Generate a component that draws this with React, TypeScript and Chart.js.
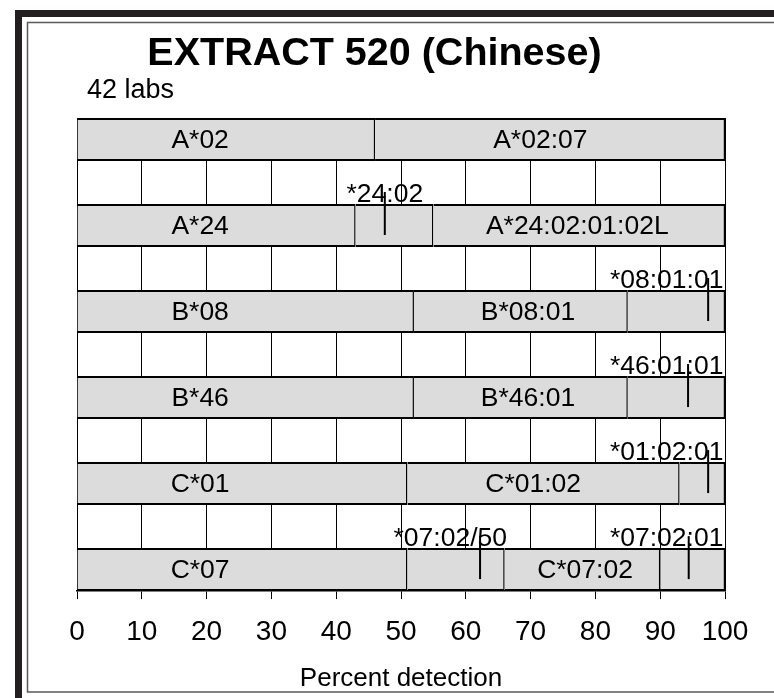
import React, { useEffect, useRef } from "react";
import { Chart, registerables } from "chart.js";

Chart.register(...registerables);

// ---- data ----
const rowNames = ["A*02", "A*24", "B*08", "B*46", "C*01", "C*07"];
const segValues: number[][] = [
  [46, 54],
  [43, 12, 45],
  [52, 33, 15],
  [52, 33, 15],
  [51, 42, 7],
  [51, 15, 24, 10],
];
const segLabels: string[][] = [
  ["A*02", "A*02:07"],
  ["A*24", "", "A*24:02:01:02L"],
  ["B*08", "B*08:01", ""],
  ["B*46", "B*46:01", ""],
  ["C*01", "C*01:02", ""],
  ["C*07", "", "C*07:02", ""],
];
// label centres, in percent
const segLabelAt: number[][] = [
  [19, 71.5],
  [19, 0, 77.2],
  [19, 69.6, 0],
  [19, 69.6, 0],
  [19, 70.4, 0],
  [19, 0, 78.4, 0],
];
const markerRow = [1, 2, 3, 4, 5, 5];
const markerValue = [47.5, 97.4, 94.3, 97.4, 62.2, 94.4];
const markerText = ["*24:02", "*08:01:01", "*46:01:01", "*01:02:01", "*07:02/50", "*07:02:01"];
const markerTextAt = [47.5, 91, 91, 91, 57.6, 91];
const xTicks = [0, 10, 20, 30, 40, 50, 60, 70, 80, 90, 100];
const titleText = "EXTRACT 520 (Chinese)";
const subText = "42 labs";
const xTitle = "Percent detection";

const FONT = "'Liberation Sans', Arial, Helvetica, sans-serif";

export default function App() {
  const ref = useRef<HTMLCanvasElement>(null);

  useEffect(() => {
    document.body.style.margin = "0";
    const canvas = ref.current;
    if (!canvas) return;

    const nSeg = Math.max(...segValues.map((r) => r.length));
    const datasets = [];
    for (let j = 0; j < nSeg; j++) {
      const data: { x: number; y: number }[] = [];
      segValues.forEach((r, i) => {
        if (r[j] !== undefined) data.push({ x: r[j], y: i });
      });
      datasets.push({
        label: "seg" + j,
        data,
        backgroundColor: "#dcdcdc",
        borderColor: "#000000",
        borderWidth: { top: 2, bottom: 2, left: 0, right: 1.5 },
        borderSkipped: false,
        categoryPercentage: 1,
        barPercentage: 0.5,
      });
    }

    const decor = {
      id: "decor",
      beforeDraw(chart: any) {
        const ctx = chart.ctx as CanvasRenderingContext2D;
        const w = chart.width;
        const h = chart.height;
        ctx.save();
        ctx.fillStyle = "#ffffff";
        ctx.fillRect(0, 0, w, h);
        ctx.fillStyle = "#231f20";
        ctx.fillRect(15, 10, w - 15, 7);
        ctx.fillRect(15, 10, 7, h - 10);
        ctx.strokeStyle = "#5a5a5a";
        ctx.lineWidth = 1.5;
        ctx.beginPath();
        ctx.moveTo(w, 22.5);
        ctx.lineTo(27.5, 22.5);
        ctx.lineTo(27.5, 692);
        ctx.lineTo(w, 692);
        ctx.stroke();
        ctx.restore();
      },
      afterDatasetsDraw(chart: any) {
        const ctx = chart.ctx as CanvasRenderingContext2D;
        const xs = chart.scales.x;
        const ys = chart.scales.y;
        ctx.save();
        ctx.fillStyle = "#000";
        ctx.textAlign = "center";
        ctx.textBaseline = "middle";
        ctx.font = `26.5px ${FONT}`;
        segLabels.forEach((labs, i) => {
          const yc = ys.getPixelForValue(i);
          labs.forEach((t, j) => {
            if (!t) return;
            ctx.fillText(t, xs.getPixelForValue(segLabelAt[i][j]), yc + 1);
          });
        });
        // markers
        markerRow.forEach((r, k) => {
          const top = ys.getPixelForValue(r - 0.25);
          const x = xs.getPixelForValue(markerValue[k]);
          ctx.strokeStyle = "#000";
          ctx.lineWidth = 2;
          ctx.beginPath();
          ctx.moveTo(x, top - 12);
          ctx.lineTo(x, top + 31);
          ctx.stroke();
          ctx.textBaseline = "alphabetic";
          ctx.fillText(markerText[k], xs.getPixelForValue(markerTextAt[k]), top - 2);
        });
        ctx.restore();
      },
      afterDraw(chart: any) {
        const ctx = chart.ctx as CanvasRenderingContext2D;
        ctx.save();
        ctx.fillStyle = "#000";
        ctx.textBaseline = "middle";
        ctx.textAlign = "center";
        ctx.font = `bold 39.5px ${FONT}`;
        ctx.fillText(titleText, 374.5, 54);
        ctx.textAlign = "left";
        ctx.font = `27px ${FONT}`;
        ctx.fillText(subText, chart.chartArea.left + 10, 91);
        ctx.restore();
      },
    };

    const chart = new Chart(canvas, {
      type: "bar",
      data: { datasets: datasets as any },
      options: {
        animation: false,
        responsive: false,
        devicePixelRatio: 1,
        indexAxis: "y",
        layout: { padding: { top: 118, left: 28, right: 49, bottom: 6 } },
        plugins: {
          legend: { display: false },
          tooltip: { enabled: false },
          title: { display: false },
        },
        scales: {
          x: {
            type: "linear",
            min: 0,
            max: 100,
            stacked: true,
            afterBuildTicks: (s: any) => {
              s.ticks = xTicks.map((v) => ({ value: v }));
            },
            ticks: {
              font: { family: FONT, size: 28 },
              color: "#000",
              padding: 16,
              maxRotation: 0,
              autoSkip: false,
            },
            grid: { color: "#000", lineWidth: 1, tickLength: 8 },
            border: { color: "#000", width: 1.5 },
            title: {
              display: true,
              text: xTitle,
              color: "#000",
              font: { family: FONT, size: 26, lineHeight: 1.05 },
              padding: { top: 0, bottom: 0 },
            },
          },
          y: {
            type: "linear",
            min: -0.25,
            max: 5.25,
            reverse: true,
            stacked: true,
            offset: false,
            afterBuildTicks: (s: any) => {
              s.ticks = rowNames.map((_, i) => ({ value: i }));
            },
            grid: { display: false, offset: false },
            ticks: { display: false },
            border: { display: false },
            afterFit: (s: any) => {
              s.width = 49;
            },
          },
        },
      } as any,
      plugins: [decor],
    });

    return () => chart.destroy();
  }, []);

  return (
    <canvas
      ref={ref}
      width={774}
      height={698}
      style={{ display: "block", width: 774, height: 698 }}
      aria-label={rowNames.join(", ")}
    />
  );
}
